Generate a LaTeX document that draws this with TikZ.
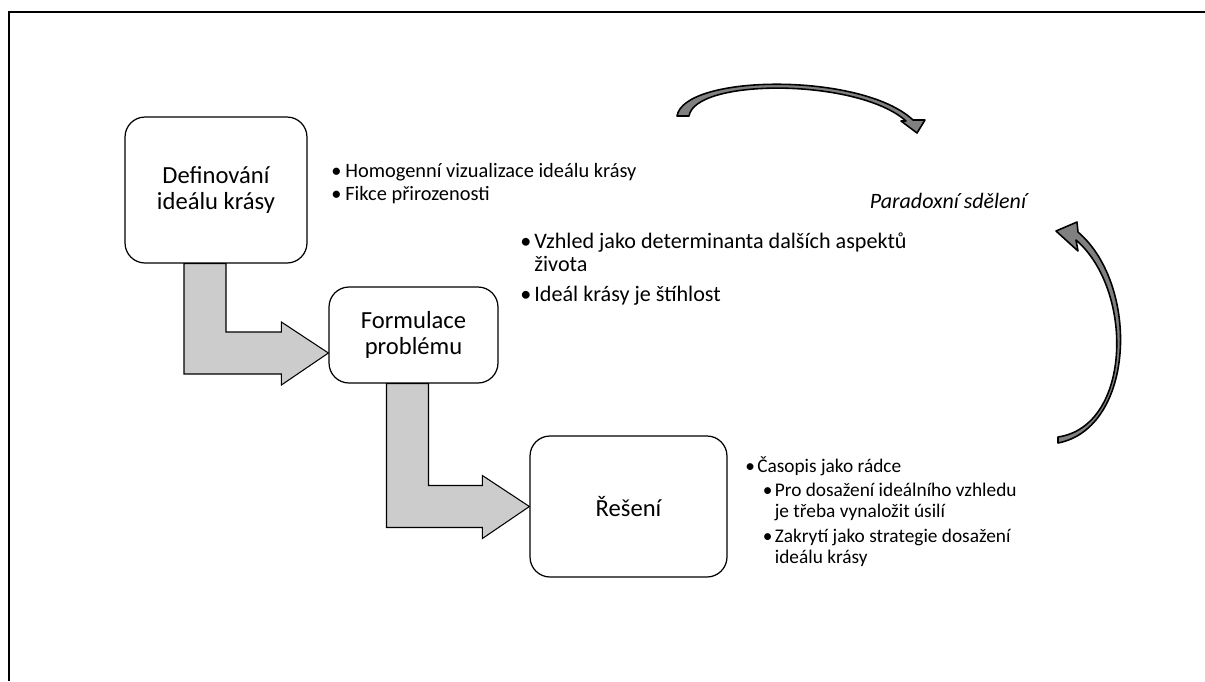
\documentclass[tikz,border=0pt]{standalone}
\usepackage{fontspec}
\setmainfont{Carlito}
\usetikzlibrary{calc}
\definecolor{flowgray}{RGB}{204,204,204}
\definecolor{arcgray}{RGB}{128,128,128}
\newcommand{\bul}[1][6.8pt]{\makebox[#1][l]{\textbullet}}
\newcommand{\subbul}{\hspace*{10pt}\bul}
\newcommand{\hang}{\hspace*{8pt}}
\newcommand{\subhang}{\hspace*{16.8pt}}
% bent block arrow: from box #1 down, then right into box #2
\newcommand{\bendarrow}[4]{%
  \draw[flow] ($(#1.south)+(#3,0)$) -- ++(42,0)
    |- ($(#2.west)+(-47,#4-21)$) -- ++(0,-10) -- ($(#2.west)+(0,#4)$)
    -- ($(#2.west)+(-47,#4+32)$) -- ++(0,-11)
    -| ($(#1.south)+(#3,0)$) -- cycle;}

\begin{document}
\begin{tikzpicture}[x=0.02cm, y=-0.02cm,
    box/.style={draw=black, line width=0.7pt, rounded corners=0.4cm, align=center,
      inner sep=0pt, font=\fontsize{14}{14.5}\selectfont},
    note/.style={anchor=north west, inner sep=0pt, align=left,
      font=\fontsize{11}{12}\selectfont},
    flow/.style={fill=flowgray, draw=black, line width=0.6pt},
    swirl/.style={fill=arcgray, draw=black, line width=0.9pt, line join=round},
  ]
  \useasboundingbox (0,0) rectangle (1205,681);

  %% frame
  \draw[line width=1.1pt] (9,681) -- (9,12) -- (1205,12);

  %% ---- the three steps ----
  \node[box, minimum width=3.64cm, minimum height=2.92cm] (def) at (216,190)
    {Definování\\ideálu krásy};
  \node[box, minimum width=3.38cm, minimum height=1.92cm] (form) at (413.5,335)
    {Formulace\\problému};
  \node[box, minimum width=3.94cm, minimum height=2.82cm] (res) at (628.5,506.5)
    {Řešení};

  \bendarrow{def}{form}{-32}{18}
  \bendarrow{form}{res}{-27}{0}

  %% ---- notes beside each step ----
  \node[note, font=\fontsize{11.6}{13}\selectfont] (lst1) at (331,163)
    {\bul[8pt]Homogenní vizualizace ideálu krásy\\
     \bul[8pt]Fikce přirozenosti};
  \node[note, font=\fontsize{12.6}{13.6}\selectfont] (lst2) at (520,232)
    {\bul[8pt]Vzhled jako determinanta dalších aspektů\\
     \hang života\\[3.5pt]
     \bul[8pt]Ideál krásy je štíhlost};
  \node[note] (lst3) at (745,456)
    {\bul Časopis jako rádce\\[2pt]
     \subbul Pro dosažení ideálního vzhledu\\
     \subhang je třeba vynaložit úsilí\\[2pt]
     \subbul Zakrytí jako strategie dosažení\\
     \subhang ideálu krásy};

  %% ---- the paradox loop ----
  \node[font=\fontsize{12.5}{14}\selectfont\itshape] (msg) at (948,201)
    {Paradoxní sdělení};
  \draw[swirl] (677,116) .. controls (684,74) and (862,72) .. (913,120)
    -- (925,120) -- (917,133) -- (901,121) -- (906,121)
    .. controls (858,78) and (695,78) .. (689,116) -- cycle;
  \draw[swirl] (1058,443) .. controls (1135,428) and (1140,285) .. (1078,232)
    -- (1077,222) -- (1056,231) -- (1078,251) -- (1076,240)
    .. controls (1134,290) and (1132,426) .. (1058,437) -- cycle;

\end{tikzpicture}
\end{document}
